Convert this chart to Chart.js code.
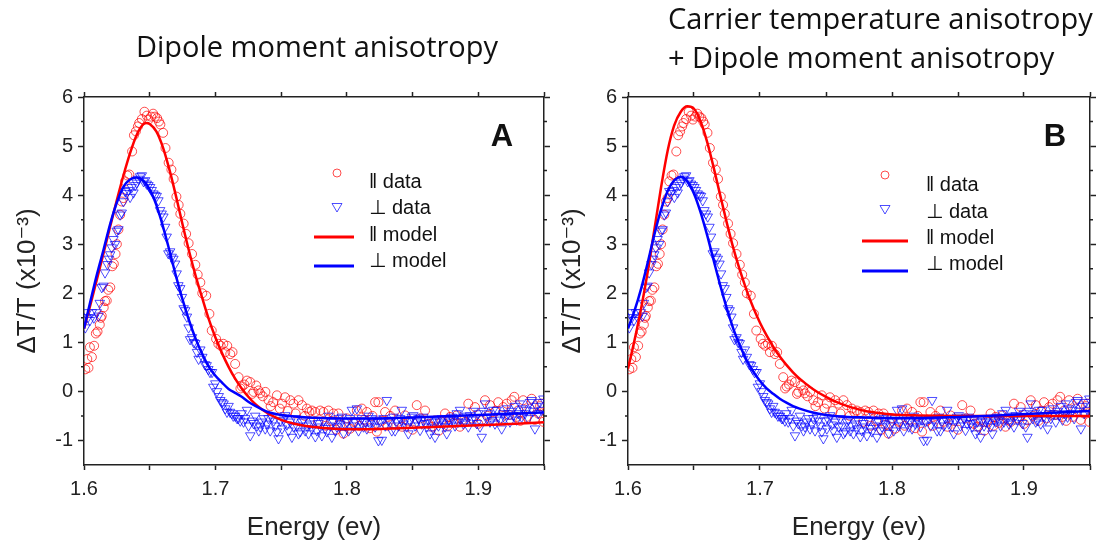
<!doctype html>
<html>
<head>
<meta charset="utf-8">
<title>Dipole moment anisotropy</title>
<script src="https://cdn.jsdelivr.net/npm/chart.js"></script>
<style>
  html, body { margin: 0; padding: 0; background: #fff; }
  #wrap { position: relative; width: 1097px; height: 546px; }
  canvas { position: absolute; top: 0; }
</style>
</head>
<body>
<div id="wrap">
  <canvas id="chartA" width="556" height="546" style="left:0"></canvas>
  <canvas id="chartB" width="541" height="546" style="left:556px"></canvas>
</div>
<script>
// measured data, [energy (eV), dT/T x1e-3] - same for both panels
const parData = [
  [1.6010,0.45],[1.6025,0.66],[1.6034,0.48],[1.6045,0.90],[1.6060,0.70],[1.6077,0.93],[1.6090,1.18],[1.6103,1.22],
  [1.6120,1.36],[1.6128,1.50],[1.6135,1.54],[1.6150,1.71],[1.6160,1.84],[1.6173,1.85],[1.6185,2.07],[1.6200,2.12],
  [1.6215,2.55],[1.6227,2.60],[1.6240,2.80],[1.6250,3.00],[1.6262,3.30],[1.6275,3.60],[1.6287,3.87],[1.6300,3.94],
  [1.6313,4.28],[1.6330,4.40],[1.6345,4.42],[1.6366,4.89],[1.6380,5.22],[1.6395,5.30],[1.6410,5.40],[1.6420,5.47],
  [1.6440,5.55],[1.6460,5.70],[1.6478,5.62],[1.6492,5.54],[1.6510,5.60],[1.6526,5.66],[1.6540,5.60],[1.6556,5.57],
  [1.6570,5.50],[1.6581,5.44],[1.6602,5.27],[1.6620,4.96],[1.6644,4.66],[1.6665,4.52],[1.6682,4.33],[1.6703,3.97],
  [1.6720,3.80],[1.6733,3.62],[1.6758,3.42],[1.6777,3.21],[1.6796,3.02],[1.6822,2.80],[1.6847,2.58],[1.6865,2.38],
  [1.6885,2.22],[1.6900,2.00],[1.6930,1.95],[1.6954,1.58],[1.6972,1.24],[1.7005,1.07],[1.7022,0.97],[1.7040,0.93],
  [1.7060,0.97],[1.7075,0.80],[1.7090,0.93],[1.7113,0.76],[1.7130,0.80],[1.7150,0.56],[1.7176,0.29],[1.7190,0.06],
  [1.7202,0.10],[1.7220,0.14],[1.7240,0.22],[1.7265,0.19],[1.7280,-0.05],[1.7290,-0.01],[1.7310,0.12],[1.7328,0.02],
  [1.7340,-0.04],[1.7360,-0.10],[1.7380,-0.01],[1.7404,-0.18],[1.7420,-0.30],[1.7440,-0.22],[1.7468,-0.08],[1.7490,-0.35],
  [1.7506,-0.25],[1.7530,-0.12],[1.7550,-0.40],[1.7570,-0.18],[1.7594,-0.25],[1.7610,-0.45],[1.7632,-0.18],[1.7658,-0.28],
  [1.7680,-0.50],[1.7696,-0.35],[1.7715,-0.42],[1.7734,-0.39],[1.7760,-0.42],[1.7780,-0.62],[1.7797,-0.39],[1.7822,-0.42],
  [1.7840,-0.70],[1.7860,-0.39],[1.7880,-0.60],[1.7898,-0.45],[1.7920,-0.78],[1.7936,-0.45],[1.7950,-0.68],[1.7974,-0.86],
  [1.8000,-0.55],[1.8025,-0.76],[1.8050,-0.62],[1.8076,-0.39],[1.8095,-0.70],[1.8114,-0.35],[1.8130,-0.58],[1.8152,-0.42],
  [1.8175,-0.75],[1.8195,-0.50],[1.8215,-0.22],[1.8228,-0.82],[1.8240,-0.22],[1.8265,-0.60],[1.8291,-0.42],[1.8310,-0.70],
  [1.8330,-0.50],[1.8367,-0.39],[1.8390,-0.62],[1.8420,-0.72],[1.8443,-0.49],[1.8470,-0.60],[1.8500,-0.78],[1.8532,-0.28],
  [1.8560,-0.55],[1.8595,-0.39],[1.8620,-0.66],[1.8650,-0.72],[1.8671,-0.59],[1.8700,-0.80],[1.8720,-0.62],[1.8747,-0.45],
  [1.8770,-0.70],[1.8785,-0.52],[1.8810,-0.64],[1.8836,-0.49],[1.8860,-0.72],[1.8880,-0.58],[1.8900,-0.62],[1.8924,-0.25],
  [1.8950,-0.55],[1.8975,-0.32],[1.9000,-0.66],[1.9026,-0.59],[1.9051,-0.18],[1.9070,-0.50],[1.9089,-0.28],[1.9110,-0.60],
  [1.9130,-0.40],[1.9152,-0.22],[1.9170,-0.55],[1.9190,-0.32],[1.9216,-0.25],[1.9235,-0.48],[1.9254,-0.18],[1.9274,-0.11],
  [1.9290,-0.52],[1.9304,-0.39],[1.9320,-0.60],[1.9342,-0.18],[1.9368,-0.52],[1.9390,-0.35],[1.9406,-0.15],[1.9430,-0.58],
  [1.9456,-0.45],[1.9470,-0.30],[1.9482,-0.25],[1.9495,-0.62]
];
const perpData = [
  [1.6010,1.30],[1.6021,1.61],[1.6030,1.51],[1.6045,1.45],[1.6060,1.61],[1.6075,1.50],[1.6097,1.61],[1.6110,1.54],
  [1.6120,1.80],[1.6135,2.12],[1.6148,2.15],[1.6160,2.42],[1.6178,2.59],[1.6190,2.70],[1.6199,2.79],[1.6211,2.93],
  [1.6224,3.10],[1.6236,3.00],[1.6249,3.27],[1.6262,3.30],[1.6275,3.60],[1.6287,3.64],[1.6300,3.87],[1.6313,4.08],
  [1.6325,4.04],[1.6338,4.10],[1.6351,3.96],[1.6363,4.16],[1.6376,4.05],[1.6389,4.20],[1.6402,4.25],[1.6414,4.33],
  [1.6427,4.38],[1.6440,4.40],[1.6453,4.28],[1.6465,4.30],[1.6477,4.23],[1.6490,4.20],[1.6503,4.16],[1.6515,4.10],
  [1.6528,4.03],[1.6541,4.00],[1.6553,3.98],[1.6566,3.89],[1.6579,3.69],[1.6591,3.62],[1.6604,3.56],[1.6617,3.35],
  [1.6629,3.15],[1.6642,2.81],[1.6655,2.85],[1.6667,2.74],[1.6680,2.70],[1.6693,2.60],[1.6705,2.40],[1.6718,2.16],
  [1.6732,2.10],[1.6745,1.92],[1.6758,1.69],[1.6770,1.65],[1.6783,1.52],[1.6796,1.30],[1.6807,1.06],[1.6822,1.10],
  [1.6835,1.00],[1.6847,0.98],[1.6860,0.80],[1.6872,0.66],[1.6885,0.85],[1.6900,0.70],[1.6920,0.55],[1.6933,0.53],
  [1.6946,0.45],[1.6959,0.39],[1.6974,0.39],[1.6984,0.09],[1.6999,0.16],[1.7012,0.00],[1.7025,-0.10],[1.7037,-0.18],
  [1.7050,-0.22],[1.7062,-0.25],[1.7075,-0.35],[1.7088,-0.42],[1.7100,-0.30],[1.7111,-0.42],[1.7126,-0.45],[1.7136,-0.50],
  [1.7151,-0.50],[1.7165,-0.55],[1.7174,-0.55],[1.7189,-0.60],[1.7200,-0.45],[1.7214,-0.62],[1.7227,-0.55],[1.7240,-0.38],
  [1.7252,-0.70],[1.7265,-0.90],[1.7278,-0.60],[1.7290,-0.65],[1.7303,-0.50],[1.7316,-0.70],[1.7330,-0.80],[1.7341,-0.72],
  [1.7355,-0.62],[1.7367,-0.55],[1.7379,-0.76],[1.7392,-0.66],[1.7404,-0.55],[1.7417,-0.80],[1.7430,-0.52],[1.7443,-0.60],
  [1.7455,-0.70],[1.7468,-0.82],[1.7480,-0.96],[1.7493,-0.60],[1.7506,-0.76],[1.7518,-0.58],[1.7531,-0.49],[1.7544,-0.68],
  [1.7556,-0.80],[1.7569,-0.62],[1.7582,-0.93],[1.7595,-0.72],[1.7607,-0.55],[1.7620,-0.70],[1.7632,-0.86],[1.7645,-0.82],
  [1.7658,-0.62],[1.7670,-0.58],[1.7683,-0.80],[1.7696,-0.70],[1.7708,-0.86],[1.7721,-0.66],[1.7734,-0.76],[1.7746,-0.60],
  [1.7760,-0.92],[1.7772,-0.80],[1.7785,-0.65],[1.7797,-0.72],[1.7810,-0.90],[1.7822,-0.60],[1.7835,-0.75],[1.7848,-0.82],
  [1.7860,-0.50],[1.7873,-0.70],[1.7886,-0.93],[1.7898,-0.62],[1.7911,-0.80],[1.7924,-0.72],[1.7937,-0.55],[1.7950,-0.66],
  [1.7962,-0.52],[1.7975,-0.85],[1.7987,-0.70],[1.8000,-0.62],[1.8013,-0.80],[1.8025,-0.55],[1.8038,-0.38],[1.8051,-0.70],
  [1.8064,-0.62],[1.8076,-0.35],[1.8089,-0.80],[1.8101,-0.60],[1.8114,-0.55],[1.8127,-0.72],[1.8140,-0.62],[1.8152,-0.76],
  [1.8165,-0.50],[1.8177,-0.66],[1.8190,-0.55],[1.8202,-0.62],[1.8215,-0.72],[1.8228,-0.58],[1.8240,-1.00],[1.8253,-0.62],
  [1.8266,-0.99],[1.8279,-0.55],[1.8292,-0.70],[1.8304,-0.18],[1.8317,-0.60],[1.8329,-0.62],[1.8342,-0.80],[1.8355,-0.52],
  [1.8367,-0.80],[1.8380,-0.60],[1.8393,-0.70],[1.8405,-0.55],[1.8418,-0.38],[1.8431,-0.66],[1.8443,-0.58],[1.8456,-0.72],
  [1.8468,-0.86],[1.8481,-0.60],[1.8494,-0.52],[1.8506,-0.49],[1.8519,-0.70],[1.8532,-0.62],[1.8545,-0.55],[1.8557,-0.79],
  [1.8570,-0.66],[1.8582,-0.52],[1.8595,-0.65],[1.8608,-0.72],[1.8620,-0.58],[1.8633,-0.86],[1.8646,-0.62],[1.8658,-0.76],
  [1.8671,-0.93],[1.8684,-0.60],[1.8697,-0.70],[1.8709,-0.62],[1.8722,-0.55],[1.8735,-0.66],[1.8747,-0.72],[1.8760,-0.86],
  [1.8773,-0.58],[1.8785,-0.62],[1.8798,-0.52],[1.8810,-0.59],[1.8823,-0.70],[1.8836,-0.45],[1.8848,-0.62],[1.8861,-0.38],
  [1.8874,-0.55],[1.8886,-0.66],[1.8899,-0.62],[1.8912,-0.50],[1.8924,-0.72],[1.8937,-0.49],[1.8950,-0.58],[1.8962,-0.40],
  [1.8975,-0.55],[1.8988,-0.65],[1.9000,-0.45],[1.9013,-0.72],[1.9026,-0.93],[1.9038,-0.40],[1.9051,-0.25],[1.9064,-0.55],
  [1.9077,-0.45],[1.9089,-0.62],[1.9102,-0.59],[1.9114,-0.38],[1.9127,-0.66],[1.9140,-0.38],[1.9152,-0.50],[1.9165,-0.58],
  [1.9178,-0.76],[1.9190,-0.45],[1.9203,-0.55],[1.9216,-0.35],[1.9228,-0.45],[1.9241,-0.62],[1.9254,-0.40],[1.9266,-0.49],
  [1.9279,-0.30],[1.9292,-0.58],[1.9304,-0.45],[1.9317,-0.25],[1.9330,-0.52],[1.9342,-0.35],[1.9355,-0.45],[1.9368,-0.38],
  [1.9380,-0.55],[1.9393,-0.22],[1.9406,-0.18],[1.9418,-0.40],[1.9431,-0.76],[1.9444,-0.30],[1.9456,-0.45],[1.9469,-0.22],
  [1.9482,-0.38],[1.9495,-0.15]
];

// model curves, panel A (dipole moment anisotropy only)
const parModelA = [
  [1.600,1.28],[1.605,1.78],[1.610,2.30],[1.615,2.83],[1.620,3.37],[1.625,3.90],[1.630,4.40],[1.635,4.85],
  [1.640,5.22],[1.645,5.44],[1.648,5.47],[1.650,5.45],[1.655,5.30],[1.660,4.98],[1.665,4.52],[1.670,3.98],
  [1.675,3.40],[1.680,2.85],[1.685,2.35],[1.690,1.90],[1.695,1.47],[1.700,1.10],[1.705,0.78],[1.710,0.50],
  [1.715,0.26],[1.720,0.06],[1.725,-0.11],[1.730,-0.25],[1.735,-0.36],[1.740,-0.45],[1.745,-0.52],[1.750,-0.58],
  [1.760,-0.66],[1.770,-0.71],[1.780,-0.74],[1.790,-0.76],[1.800,-0.77],[1.820,-0.77],[1.840,-0.75],[1.860,-0.73],
  [1.880,-0.71],[1.900,-0.69],[1.920,-0.67],[1.950,-0.63]
];
const perpModelA = [
  [1.600,1.28],[1.605,1.85],[1.610,2.40],[1.615,2.90],[1.620,3.42],[1.625,3.85],[1.630,4.17],[1.635,4.32],
  [1.640,4.36],[1.645,4.30],[1.650,4.12],[1.655,3.80],[1.660,3.37],[1.665,2.87],[1.670,2.35],[1.675,1.87],
  [1.680,1.44],[1.685,1.07],[1.690,0.76],[1.695,0.50],[1.700,0.32],[1.705,0.18],[1.710,0.05],[1.715,-0.03],
  [1.720,-0.11],[1.725,-0.21],[1.730,-0.29],[1.735,-0.36],[1.740,-0.42],[1.750,-0.48],[1.760,-0.51],[1.770,-0.53],
  [1.780,-0.54],[1.800,-0.55],[1.820,-0.55],[1.850,-0.53],[1.880,-0.50],[1.910,-0.47],[1.950,-0.43]
];
// model curves, panel B (carrier temperature + dipole moment anisotropy)
const parModelB = [
  [1.600,0.46],[1.605,1.05],[1.610,1.70],[1.615,2.45],[1.620,3.30],[1.625,4.15],[1.630,4.90],[1.635,5.42],
  [1.640,5.70],[1.645,5.81],[1.650,5.76],[1.655,5.50],[1.660,5.08],[1.665,4.55],[1.670,3.98],[1.675,3.42],
  [1.680,2.90],[1.685,2.45],[1.690,2.05],[1.695,1.70],[1.700,1.40],[1.705,1.14],[1.710,0.91],[1.715,0.71],
  [1.720,0.54],[1.725,0.39],[1.730,0.26],[1.740,0.05],[1.750,-0.11],[1.760,-0.24],[1.770,-0.33],[1.780,-0.40],
  [1.790,-0.44],[1.800,-0.47],[1.820,-0.49],[1.850,-0.50],[1.900,-0.50],[1.950,-0.50]
];
const perpModelB = [
  [1.600,1.28],[1.605,1.65],[1.610,2.10],[1.615,2.63],[1.620,3.20],[1.625,3.70],[1.630,4.08],[1.635,4.30],
  [1.640,4.37],[1.645,4.28],[1.650,4.03],[1.655,3.65],[1.660,3.18],[1.665,2.66],[1.670,2.15],[1.675,1.68],
  [1.680,1.26],[1.685,0.92],[1.690,0.63],[1.695,0.40],[1.700,0.21],[1.705,0.06],[1.710,-0.05],[1.715,-0.15],
  [1.720,-0.23],[1.725,-0.30],[1.730,-0.35],[1.740,-0.43],[1.750,-0.48],[1.760,-0.51],[1.780,-0.53],[1.800,-0.54],
  [1.820,-0.54],[1.850,-0.52],[1.880,-0.49],[1.910,-0.45],[1.950,-0.40]
];

const yMinor = [-0.5, 0.5, 1.5, 2.5, 3.5, 4.5, 5.5];
const xTickLabels = ['1.6', '1.7', '1.8', '1.9'];
const legendLabels = ['\u2016 data', '\u22A5 data', '\u2016 model', '\u22A5 model'];

const RED = '#ff0000', BLUE = '#0000ff';
const RED_PT = 'rgba(255,0,0,0.7)', BLUE_PT = 'rgba(0,0,255,0.7)';
const INK = '#222';
const SANS = "'Liberation Sans', Arial, 'DejaVu Sans', sans-serif";

const pts = arr => arr.map(([x, y]) => ({ x, y }));

// titles, panel letter, legend and the half-unit minor ticks
const decor = {
  id: 'decor',
  afterDraw(chart, args, o) {
    const { ctx, chartArea: a, scales } = chart;
    ctx.save();
    ctx.strokeStyle = INK;
    ctx.lineWidth = 1.5;
    yMinor.forEach(v => {
      const y = scales.y.getPixelForValue(v);
      ctx.beginPath();
      ctx.moveTo(a.left - 3, y); ctx.lineTo(a.left, y);
      ctx.moveTo(a.right, y); ctx.lineTo(a.right + 3, y);
      ctx.stroke();
    });

    ctx.fillStyle = '#111';
    ctx.font = "29px 'Open Sans', 'Noto Sans', sans-serif";
    ctx.textAlign = o.titleAlign;
    ctx.textBaseline = 'alphabetic';
    o.title.forEach((t, i) => ctx.fillText(t, o.titleX, o.titleY[i]));

    ctx.font = 'bold 31px ' + SANS;
    ctx.textAlign = 'center';
    ctx.fillText(o.letter, o.letterX, o.letterY);

    const L = o.legend;
    ctx.lineWidth = 1;
    ctx.strokeStyle = RED_PT;
    ctx.beginPath(); ctx.arc(L.mx, L.ys[0], 4, 0, Math.PI * 2); ctx.stroke();
    ctx.strokeStyle = BLUE_PT;
    ctx.beginPath();
    ctx.moveTo(L.mx - 5, L.ys[1] - 3.5); ctx.lineTo(L.mx + 5, L.ys[1] - 3.5); ctx.lineTo(L.mx, L.ys[1] + 5);
    ctx.closePath(); ctx.stroke();
    ctx.lineWidth = 3;
    ctx.strokeStyle = RED;
    ctx.beginPath(); ctx.moveTo(L.lx1, L.ys[2]); ctx.lineTo(L.lx2, L.ys[2]); ctx.stroke();
    ctx.strokeStyle = BLUE;
    ctx.beginPath(); ctx.moveTo(L.lx1, L.ys[3]); ctx.lineTo(L.lx2, L.ys[3]); ctx.stroke();

    ctx.font = '20px ' + SANS;
    ctx.fillStyle = '#111';
    ctx.textAlign = 'left';
    ctx.textBaseline = 'middle';
    legendLabels.forEach((t, i) => ctx.fillText(t, L.tx, L.ty[i]));
    ctx.restore();
  }
};

function makeScales(box) {
  const border = { display: true, color: INK, width: 1.5 };
  const tickFont = { family: SANS, size: 20 };
  const titleFont = { family: SANS, size: 26 };
  return {
    x: {
      type: 'linear', axis: 'x', position: 'bottom', min: 1.6, max: 1.95, border,
      grid: { drawOnChartArea: false, tickLength: 5, tickColor: INK, tickWidth: 1.5 },
      ticks: {
        stepSize: 0.05, padding: 7, color: INK, font: tickFont, maxRotation: 0, autoSkip: false,
        callback: v => {
          const k = Math.round(v * 100);
          return k % 10 === 0 ? xTickLabels[(k - 160) / 10] || '' : '';
        }
      },
      title: { display: true, text: 'Energy (ev)', color: INK, font: titleFont, padding: { top: 0, bottom: 3 } },
      afterFit: s => { s.height = box.h - box.bottom; }
    },
    x2: {
      type: 'linear', axis: 'x', position: 'top', min: 1.6, max: 1.95, border,
      grid: { drawOnChartArea: false, tickLength: 5, tickColor: INK, tickWidth: 1.5 },
      ticks: { display: false, stepSize: 0.05 },
      afterFit: s => { s.height = box.top; }
    },
    y: {
      type: 'linear', axis: 'y', position: 'left', min: -1.5, max: 6, border,
      grid: { drawOnChartArea: false, tickLength: 6, tickColor: INK, tickWidth: 1.5 },
      ticks: { stepSize: 1, includeBounds: false, padding: 5, color: INK, font: tickFont, callback: v => String(v) },
      title: { display: true, text: '\u0394T/T (x10\u207B\u00B3)', color: INK, font: titleFont, padding: { top: box.ytPad, bottom: 0 } },
      afterFit: s => { s.width = box.left; }
    },
    y2: {
      type: 'linear', axis: 'y', position: 'right', min: -1.5, max: 6, border,
      grid: { drawOnChartArea: false, tickLength: 6, tickColor: INK, tickWidth: 1.5 },
      ticks: { display: false, stepSize: 1, includeBounds: false },
      afterFit: s => { s.width = box.w - box.right; }
    }
  };
}

function makeDatasets(parModel, perpModel) {
  const line = { showLine: true, pointRadius: 0, borderWidth: 2.5, cubicInterpolationMode: 'monotone', xAxisID: 'x', yAxisID: 'y' };
  return [
    Object.assign({ label: '\u2016 model', data: pts(parModel), borderColor: RED, order: 1 }, line),
    Object.assign({ label: '\u22A5 model', data: pts(perpModel), borderColor: BLUE, order: 0 }, line),
    { label: '\u22A5 data', data: pts(perpData), pointStyle: 'triangle', rotation: 180, pointRadius: 5.5,
      borderWidth: 1, borderColor: BLUE_PT, backgroundColor: 'transparent', order: 2, xAxisID: 'x', yAxisID: 'y' },
    { label: '\u2016 data', data: pts(parData), pointStyle: 'circle', pointRadius: 4.5,
      borderWidth: 1, borderColor: RED_PT, backgroundColor: 'transparent', order: 3, xAxisID: 'x', yAxisID: 'y' }
  ];
}

function makeChart(id, box, parModel, perpModel, deco) {
  return new Chart(document.getElementById(id), {
    type: 'scatter',
    data: { datasets: makeDatasets(parModel, perpModel) },
    options: {
      responsive: false,
      animation: false,
      layout: { padding: 0 },
      scales: makeScales(box),
      plugins: { legend: { display: false }, tooltip: { enabled: false }, decor: deco }
    },
    plugins: [decor]
  });
}

makeChart('chartA',
  { w: 556, h: 546, left: 84, right: 544, top: 97, bottom: 465, ytPad: 12 },
  parModelA, perpModelA,
  {
    title: ['Dipole moment anisotropy'], titleAlign: 'center', titleX: 317, titleY: [57],
    letter: 'A', letterX: 502, letterY: 146,
    legend: { mx: 337, ys: [173, 207, 237, 266], lx1: 314, lx2: 354, tx: 369, ty: [182, 208, 235, 261] }
  });

makeChart('chartB',
  { w: 541, h: 546, left: 72, right: 536, top: 97, bottom: 465, ytPad: 1 },
  parModelB, perpModelB,
  {
    title: ['Carrier temperature anisotropy', '+ Dipole moment anisotropy'], titleAlign: 'left', titleX: 112, titleY: [29, 68],
    letter: 'B', letterX: 499, letterY: 146,
    legend: { mx: 329, ys: [175, 209, 241, 271], lx1: 306, lx2: 352, tx: 370, ty: [185, 212, 238, 264] }
  });
</script>
</body>
</html>
